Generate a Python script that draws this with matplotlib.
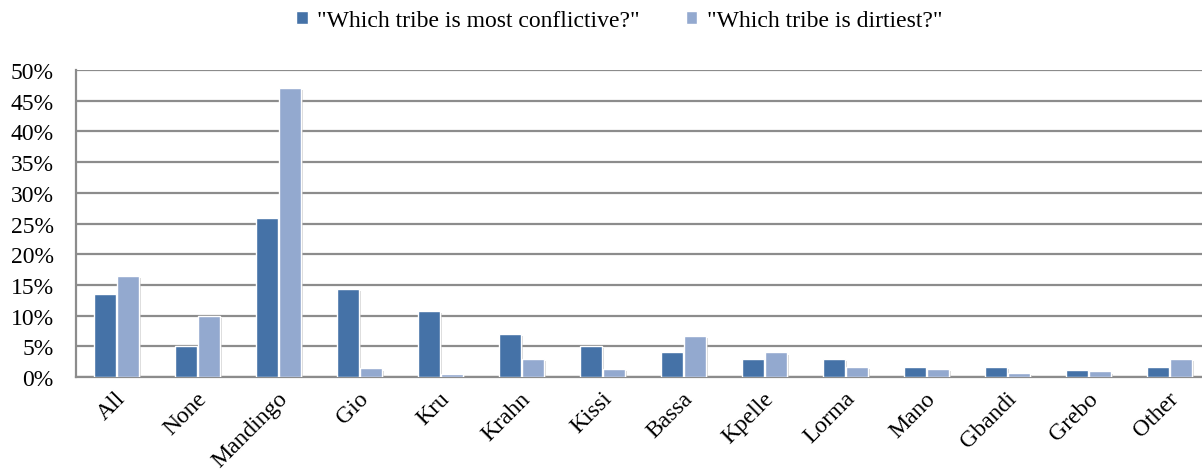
import numpy as np
import matplotlib.pyplot as plt
import matplotlib.patheffects as pe
import matplotlib.transforms as mtransforms
from matplotlib.ticker import FuncFormatter

plt.rcParams['font.family'] = ['Liberation Serif', 'DejaVu Serif']

tribes = ["All", "None", "Mandingo", "Gio", "Kru", "Krahn", "Kissi", "Bassa",
          "Kpelle", "Lorma", "Mano", "Gbandi", "Grebo", "Other"]
conflictive = [13.6, 5.0, 25.9, 14.4, 10.8, 7.0, 5.0, 4.0, 3.0, 2.9, 1.7, 1.7, 1.15, 1.6]
dirtiest = [16.4, 9.9, 47.1, 1.4, 0.55, 3.0, 1.25, 6.7, 4.0, 1.6, 1.25, 0.65, 0.9, 2.9]
labels = ['"Which tribe is most conflictive?"', '"Which tribe is dirtiest?"']
colors = ["#4572a7", "#93a9cf"]

fig = plt.figure(figsize=(12.02, 4.77), dpi=100)
ax = fig.add_axes([0.0632, 0.2075, 0.9434, 0.6436])

x = np.arange(len(tribes))
w = 0.27
shadow = [pe.SimplePatchShadow(offset=(1.5, -1.5), shadow_rgbFace="#b0b0b0", alpha=0.5),
          pe.Normal()]
for i, (vals, lab) in enumerate([(conflictive, labels[0]), (dirtiest, labels[1])]):
    bars = ax.bar(x + (i - 0.5) * (w + 0.02), vals, width=w, color=colors[i],
                  edgecolor="white", linewidth=1, label=lab, zorder=3)
    for b in bars:
        b.set_path_effects(shadow)

ax.set_xlim(-0.5, len(tribes) - 0.5)
ax.set_ylim(0, 50)
ax.set_yticks(np.arange(0, 51, 5))
ax.yaxis.set_major_formatter(FuncFormatter(lambda v, _: f"{int(v)}%"))
ax.grid(axis="y", color="#8c8c8c", linewidth=1.6, zorder=0)
ax.set_axisbelow(True)

ax.set_xticks(x)
ax.set_xticklabels(tribes, rotation=45, ha="right", va="center", rotation_mode="anchor")
ax.tick_params(axis="x", length=0, pad=13, labelsize=17)
ax.tick_params(axis="y", length=0, pad=16, labelsize=17)
shift = mtransforms.ScaledTranslation(6 / 100, 0, fig.dpi_scale_trans)
for t in ax.get_xticklabels():
    t.set_transform(t.get_transform() + shift)

for s in ["top", "right"]:
    ax.spines[s].set_visible(False)
for s in ["left", "bottom"]:
    ax.spines[s].set_color("#8c8c8c")
    ax.spines[s].set_linewidth(1.6)

handles, labs = ax.get_legend_handles_labels()
leg = fig.legend(handles, labs, loc="center", bbox_to_anchor=(0.515, 0.955), ncol=2,
                 frameon=False, fontsize=17, handlelength=0.5, handleheight=0.5,
                 handletextpad=0.4, columnspacing=1.95)
for h in leg.legend_handles:
    h.set_path_effects([])

fig.savefig("out.png", dpi=100)
